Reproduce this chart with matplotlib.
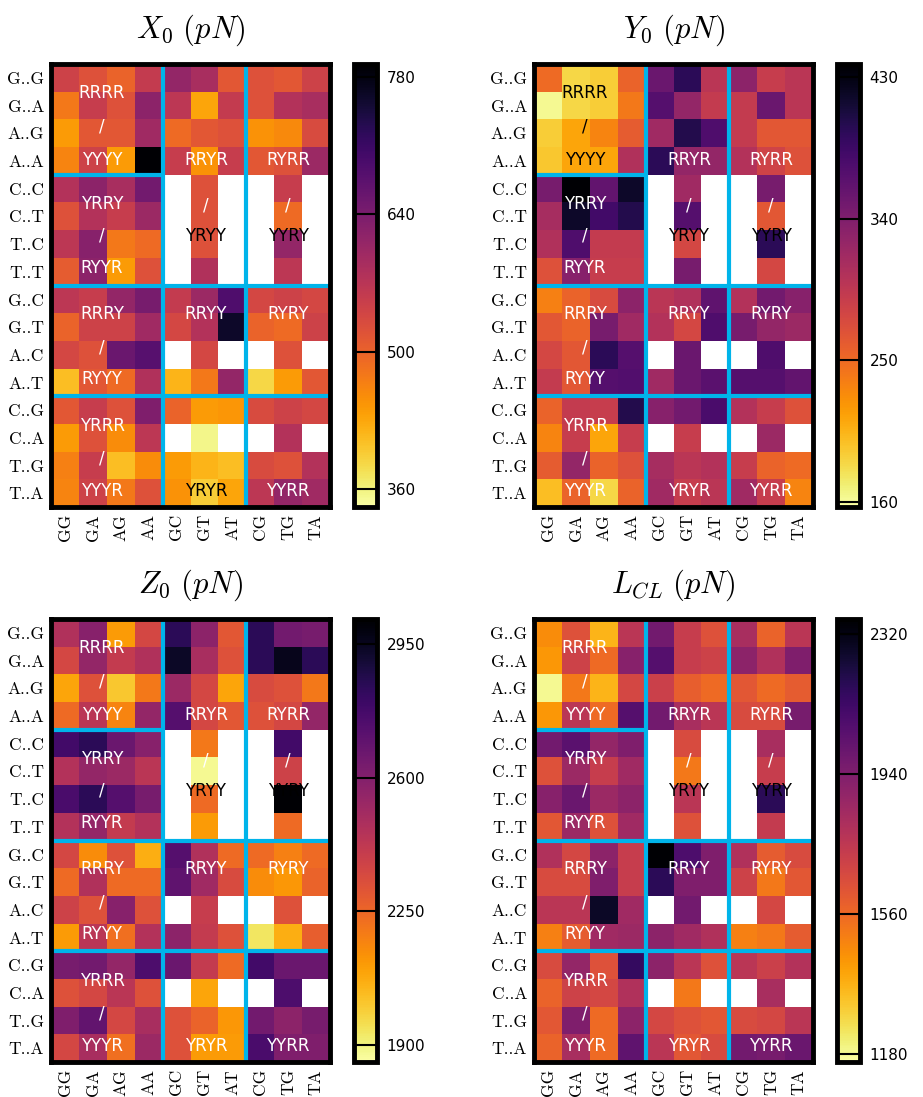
import matplotlib
matplotlib.use('Agg')
import matplotlib.pyplot as plt
import numpy as np

plt.rcParams['mathtext.fontset'] = 'cm'

nan = np.nan

rows = ['G..G', 'G..A', 'A..G', 'A..A', 'C..C', 'C..T', 'T..C', 'T..T',
        'G..C', 'G..T', 'A..C', 'A..T', 'C..G', 'C..A', 'T..G', 'T..A']
cols = ['GG', 'GA', 'AG', 'AA', 'GC', 'GT', 'AT', 'CG', 'TG', 'TA']

# X0 (pN)
x0 = [
    [545, 522, 500, 558, 613, 590, 513, 522, 513, 545],
    [477, 554, 522, 622, 567, 432, 558, 522, 577, 590],
    [441, 513, 513, 599, 491, 513, 522, 450, 460, 531],
    [464, 545, 441, 793, 554, 450, 554, 513, 522, 604],
    [577, 622, 590, 649, nan, 522, nan, nan, 554, nan],
    [522, 577, 554, 604, nan, 522, nan, nan, 491, nan],
    [567, 626, 477, 491, nan, 522, nan, nan, 613, nan],
    [509, 622, 441, 522, nan, 581, nan, nan, 567, nan],
    [567, 554, 613, 644, 558, 604, 689, 536, 545, 536],
    [500, 545, 545, 599, 536, 577, 761, 500, 491, 545],
    [536, 522, 658, 680, nan, 536, nan, nan, 522, nan],
    [410, 513, 491, 581, 419, 477, 613, 387, 441, 513],
    [513, 554, 522, 635, 500, 441, 446, 531, 545, 536],
    [441, 522, 455, 567, nan, 356, nan, nan, 577, nan],
    [468, 554, 410, 455, 441, 419, 410, 531, 522, 577],
    [464, 545, 477, 522, 450, 396, 432, 567, 613, 599],
]

# Y0 (pN)
y0 = [
    [250, 185, 191, 255, 354, 396, 298, 331, 289, 298],
    [163, 185, 191, 241, 368, 326, 292, 292, 354, 298],
    [191, 213, 233, 261, 317, 401, 373, 292, 264, 264],
    [194, 213, 213, 306, 396, 326, 326, 303, 283, 269],
    [345, 438, 359, 418, nan, 317, nan, nan, 345, nan],
    [312, 418, 382, 401, nan, 368, nan, nan, 264, nan],
    [306, 373, 292, 292, nan, 278, nan, nan, 396, nan],
    [269, 334, 289, 289, nan, 345, nan, nan, 278, nan],
    [236, 255, 275, 331, 298, 306, 362, 303, 348, 334],
    [264, 255, 345, 317, 303, 278, 373, 345, 326, 320],
    [278, 264, 396, 368, nan, 354, nan, nan, 373, nan],
    [292, 264, 368, 371, 317, 354, 365, 368, 368, 359],
    [255, 292, 289, 401, 334, 348, 376, 303, 289, 269],
    [233, 289, 213, 289, nan, 289, nan, nan, 320, nan],
    [261, 326, 255, 269, 312, 298, 303, 289, 255, 250],
    [199, 255, 185, 255, 317, 289, 298, 317, 289, 233],
]

# Z0 (pN)
z0 = [
    [2470, 2586, 2110, 2354, 2841, 2574, 2296, 2841, 2644, 2632],
    [2354, 2551, 2412, 2470, 2934, 2493, 2319, 2841, 2957, 2841],
    [2087, 2319, 2006, 2203, 2528, 2354, 2087, 2342, 2319, 2203],
    [2238, 2435, 2168, 2551, 2725, 2354, 2296, 2319, 2354, 2551],
    [2783, 2841, 2667, 2586, nan, 2203, nan, nan, 2783, nan],
    [2458, 2551, 2528, 2435, nan, 1878, nan, nan, 2377, nan],
    [2760, 2841, 2725, 2632, nan, 2238, nan, nan, 3015, nan],
    [2458, 2551, 2412, 2458, nan, 2110, nan, nan, 2238, nan],
    [2354, 2145, 2319, 2064, 2725, 2470, 2238, 2238, 2180, 2238],
    [2238, 2470, 2238, 2238, 2702, 2516, 2342, 2145, 2122, 2261],
    [2377, 2319, 2586, 2319, nan, 2400, nan, nan, 2319, nan],
    [2110, 2435, 2226, 2458, 2574, 2412, 2319, 1936, 2064, 2273],
    [2632, 2644, 2551, 2748, 2667, 2412, 2238, 2783, 2667, 2667],
    [2319, 2354, 2435, 2319, nan, 2087, nan, nan, 2748, nan],
    [2609, 2690, 2354, 2493, 2319, 2261, 2122, 2644, 2574, 2632],
    [2354, 2493, 2226, 2528, 2319, 2110, 2110, 2760, 2609, 2609],
]

# L_CL (pN)
lcl = [
    [1459, 1639, 1362, 1759, 1975, 1723, 1639, 1819, 1579, 1759],
    [1434, 1699, 1555, 1915, 2060, 1723, 1699, 1903, 1795, 1939],
    [1182, 1519, 1362, 1675, 1711, 1591, 1555, 1615, 1555, 1603],
    [1434, 1759, 1555, 2060, 1975, 1819, 1759, 1663, 1663, 1963],
    [1975, 2047, 1879, 1939, nan, 1663, nan, nan, 1819, nan],
    [1639, 1855, 1723, 1843, nan, 1519, nan, nan, 1723, nan],
    [1915, 1999, 1855, 1903, nan, 1759, nan, nan, 2180, nan],
    [1615, 1855, 1639, 1843, nan, 1639, nan, nan, 1735, nan],
    [1795, 1675, 1903, 1723, 2360, 2084, 1939, 1795, 1603, 1663],
    [1663, 1663, 1939, 1723, 2180, 1939, 1939, 1699, 1519, 1615],
    [1759, 1759, 2276, 1843, nan, 1975, nan, nan, 1675, nan],
    [1495, 1603, 1843, 1855, 1903, 1843, 1795, 1495, 1519, 1603],
    [1663, 1879, 1639, 2156, 1903, 1759, 1639, 1759, 1711, 1783],
    [1579, 1699, 1675, 1795, nan, 1519, nan, nan, 1819, nan],
    [1615, 1939, 1555, 1903, 1675, 1639, 1615, 1663, 1675, 1759],
    [1579, 1819, 1555, 2035, 1759, 1615, 1663, 1975, 1963, 1999],
]

titles = [r'$X_0\ (pN)$', r'$Y_0\ (pN)$', r'$Z_0\ (pN)$', r'$L_{CL}\ (pN)$']
limits = [(342, 793), (157, 438), (1855, 3015), (1158, 2360)]
cbar_ticks = [[360, 500, 640, 780], [160, 250, 340, 430],
              [1900, 2250, 2600, 2950], [1180, 1560, 1940, 2320]]

# tetramer class labels (x, y in cell units from the top-left corner)
labels = [
    (1.83, 1.06, 'RRRR'), (1.83, 2.27, '/'), (1.83, 3.48, 'YYYY'),
    (1.83, 5.07, 'YRRY'), (1.83, 6.2, '/'), (1.83, 7.37, 'RYYR'),
    (5.55, 3.48, 'RRYR'), (5.55, 5.1, '/'), (5.55, 6.2, 'YRYY'),
    (8.5, 3.48, 'RYRR'), (8.5, 5.1, '/'), (8.5, 6.2, 'YYRY'),
    (1.83, 9.03, 'RRRY'), (1.83, 10.24, '/'), (1.83, 11.39, 'RYYY'),
    (5.55, 9.03, 'RRYY'), (8.5, 9.03, 'RYRY'),
    (1.83, 13.08, 'YRRR'), (1.83, 14.23, '/'), (1.83, 15.43, 'YYYR'),
    (5.55, 15.43, 'YRYR'), (8.5, 15.43, 'YYRR'),
]
dark_labels = [[8, 11, 20], [0, 1, 2, 8, 11], [8, 11], [8, 11]]

BLUE = '#00b4ea'

fig = plt.figure(figsize=(9.23, 10.97), dpi=100)

ax_pos = [(0.0553, 0.5378), (0.5786, 0.5378), (0.0553, 0.0319), (0.5786, 0.0319)]
cax_left = [0.3835, 0.9065, 0.3835, 0.9065]
W, H = 0.3023, 0.4038

for k, data in enumerate([x0, y0, z0, lcl]):
    left, bottom = ax_pos[k]
    ax = fig.add_axes([left, bottom, W, H])
    arr = np.ma.masked_invalid(np.array(data, dtype=float))
    vmin, vmax = limits[k]
    mesh = ax.pcolormesh(arr, cmap='inferno_r', vmin=vmin, vmax=vmax)
    ax.set_xlim(0, 10)
    ax.set_ylim(16, 0)

    # block separators
    ax.axhline(8, color=BLUE, lw=3)
    ax.axhline(12, color=BLUE, lw=3)
    ax.plot([0, 4], [4, 4], color=BLUE, lw=3, solid_capstyle='butt')
    ax.axvline(4, color=BLUE, lw=3)
    ax.axvline(7, color=BLUE, lw=3)

    for i, (tx, ty, s) in enumerate(labels):
        c = 'black' if i in dark_labels[k] else 'white'
        ax.text(tx, ty, s, color=c, fontsize=12, ha='center', va='center')

    ax.set_xticks(np.arange(10) + 0.5)
    ax.set_xticklabels(cols, rotation=90, fontsize=12.5, fontfamily='cmr10')
    ax.set_yticks(np.arange(16) + 0.5)
    ax.set_yticklabels(rows, fontsize=12.5, fontfamily='cmr10')
    ax.tick_params(length=0, pad=5)
    for sp in ax.spines.values():
        sp.set_linewidth(3.5)
    ax.set_title(titles[k], fontsize=22, pad=19)

    cax = fig.add_axes([cax_left[k], bottom, 0.025, H])
    cb = fig.colorbar(mesh, cax=cax, ticks=cbar_ticks[k])
    cb.outline.set_linewidth(3.5)
    cax.tick_params(length=0, labelsize=11, pad=7)
    for t in cbar_ticks[k]:
        cax.axhline(t, color='black', lw=1.5)

fig.savefig('out.png', dpi=100)
